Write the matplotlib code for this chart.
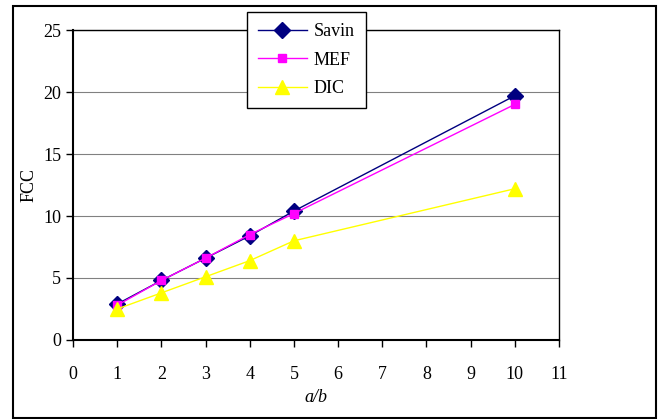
import matplotlib.pyplot as plt
from matplotlib.patches import Rectangle

plt.rcParams['font.family'] = ['Liberation Serif', 'DejaVu Serif']

# Datos
ab = [1, 2, 3, 4, 5, 10]
savin = [2.9, 4.8, 6.6, 8.4, 10.4, 19.7]
mef = [2.8, 4.8, 6.6, 8.5, 10.2, 19.0]
dic = [2.5, 3.8, 5.1, 6.4, 8.0, 12.2]

fig = plt.figure(figsize=(6.62, 4.19), dpi=100)
ax = fig.add_axes([73 / 662, 1 - 340 / 419, 486 / 662, 310 / 419])

ax.plot(ab, savin, color='#000080', marker='D', markersize=8, lw=1, label='Savin')
ax.plot(ab, mef, color='#ff00ff', marker='s', markersize=6, lw=1, label='MEF')
ax.plot(ab, dic, color='#ffff00', marker='^', markersize=10, lw=1, label='DIC')

ax.set_xlim(0, 11)
ax.set_ylim(0, 25)
ax.set_xticks(range(0, 12))
ax.set_yticks(range(0, 26, 5))
ax.yaxis.grid(True, color='#808080', lw=0.8)
ax.set_axisbelow(True)
for s in ax.spines.values():
    s.set_color('black')
    s.set_linewidth(1)
ax.spines['bottom'].set_linewidth(1.5)
ax.spines['left'].set_linewidth(1.5)
ax.tick_params(axis='both', labelsize=13, direction='out', length=5, width=1)
ax.tick_params(axis='x', pad=14)

ax.set_xlabel('a/b', fontsize=13, style='italic', labelpad=4)
ax.set_ylabel('FCC', fontsize=13, labelpad=4)

leg = ax.legend(loc='upper left', bbox_to_anchor=(0.358, 1.058), fontsize=13,
                frameon=True, fancybox=False, edgecolor='black', framealpha=1,
                handlelength=2.7, borderpad=0.6, labelspacing=0.65,
                handletextpad=0.4, borderaxespad=0)
leg.get_frame().set_linewidth(1)

# Borde exterior de la figura
fig.patches.append(Rectangle((13 / 662, 0.002), 643 / 662, 1 - 6 / 419 - 0.002,
                             transform=fig.transFigure, fill=False,
                             edgecolor='black', lw=1.5))

fig.savefig('out.png', dpi=100)
